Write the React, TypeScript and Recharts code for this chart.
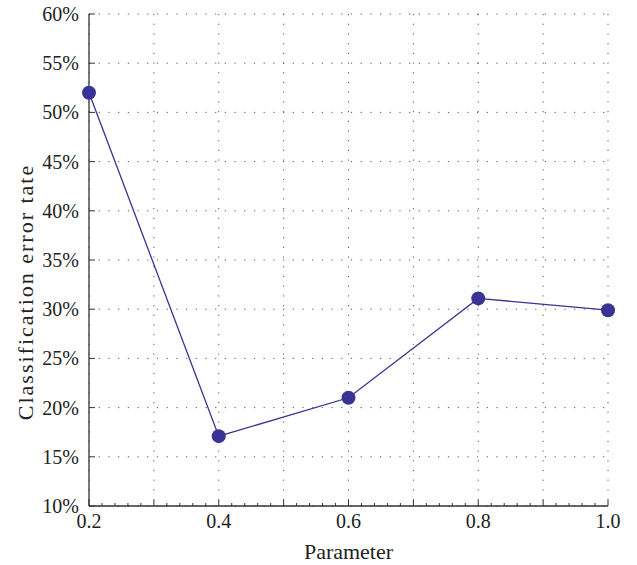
import React from 'react'
import { LineChart, Line, XAxis, YAxis, CartesianGrid } from 'recharts'

const parameters = [0.2, 0.4, 0.6, 0.8, 1.0]
const errorRates = [52.0, 17.1, 21.0, 31.1, 29.9]

const xLabelTicks = [0.2, 0.4, 0.6, 0.8, 1.0]
const xGridTicks = [0.2, 0.3, 0.4, 0.5, 0.6, 0.7, 0.8, 0.9, 1.0]
const yTicks = [10, 15, 20, 25, 30, 35, 40, 45, 50, 55, 60]

// minor ticks every 0.02 between the 0.1 gridlines
const xAllTicks = xGridTicks.flatMap((t, i) =>
  i === xGridTicks.length - 1 ? [t] : [0, 0.02, 0.04, 0.06, 0.08].map(d => Math.round((t + d) * 100) / 100)
)

const data = parameters.map((p, i) => ({ p, rate: errorRates[i] }))

const FONT = '"Liberation Serif", "DejaVu Serif", serif'
const AXIS = '#333'
const SERIES = '#3a3396'
const TEXT = '#222'

const isIn = (list: number[], v: number) => list.some(t => Math.abs(t - v) < 1e-6)

const BottomTick = ({ x, y, payload }: any) => {
  const v = payload.value
  const len = isIn(xGridTicks, v) ? 6 : 3
  return (
    <g>
      <line x1={x} x2={x} y1={y} y2={y - len} stroke={AXIS} strokeWidth={1} />
      {isIn(xLabelTicks, v) && (
        <text x={x} y={y + 22} textAnchor="middle" fontFamily={FONT} fontSize={20} fill={TEXT}>
          {v.toFixed(1)}
        </text>
      )}
    </g>
  )
}

const TopTick = ({ x, y, payload }: any) => {
  const len = isIn(xGridTicks, payload.value) ? 6 : 3
  return <line x1={x} x2={x} y1={y} y2={y + len} stroke={AXIS} strokeWidth={1} />
}

const LeftTick = ({ x, y, payload }: any) => (
  <g>
    <line x1={x} x2={x + 6} y1={y} y2={y} stroke={AXIS} strokeWidth={1} />
    <text x={x - 10} y={y} dy="0.35em" textAnchor="end" fontFamily={FONT} fontSize={20} fill={TEXT}>
      {`${payload.value}%`}
    </text>
  </g>
)

const RightTick = ({ x, y }: any) => (
  <line x1={x} x2={x - 6} y1={y} y2={y} stroke={AXIS} strokeWidth={1} />
)

const YTitle = ({ viewBox }: any) => {
  const cx = viewBox.x + 25
  const cy = viewBox.y + viewBox.height / 2 + 32
  return (
    <text
      x={cx}
      y={cy}
      dy="0.35em"
      textAnchor="middle"
      transform={`rotate(-90, ${cx}, ${cy})`}
      fontFamily={FONT}
      fontSize={22}
      letterSpacing={2}
      fill={TEXT}
    >
      Classification error tate
    </text>
  )
}

export default function App() {
  return (
    <div style={{ position: 'absolute', left: 0, top: 0, width: 637, height: 565, background: '#fff' }}>
      <LineChart width={637} height={565} data={data} margin={{ top: 14, right: 29, bottom: 0, left: 0 }}>
        <CartesianGrid
          xAxisId="bottom"
          yAxisId="left"
          stroke="#555"
          strokeDasharray="1.2 8.5"
          verticalValues={xGridTicks}
          horizontalValues={yTicks}
        />
        <XAxis
          xAxisId="bottom"
          dataKey="p"
          type="number"
          domain={[0.2, 1.0]}
          ticks={xAllTicks}
          interval={0}
          tickSize={0}
          tickMargin={0}
          tickLine={false}
          tick={<BottomTick />}
          axisLine={{ stroke: AXIS, strokeWidth: 1.3 }}
          height={59}
          label={{ value: 'Parameter', position: 'insideBottom', offset: 6, fontFamily: FONT, fontSize: 22, fill: TEXT }}
        />
        <XAxis
          xAxisId="top"
          orientation="top"
          dataKey="p"
          type="number"
          domain={[0.2, 1.0]}
          ticks={xAllTicks}
          interval={0}
          tickSize={0}
          tickMargin={0}
          tickLine={false}
          tick={<TopTick />}
          axisLine={{ stroke: AXIS, strokeWidth: 1.3 }}
          height={0}
        />
        <YAxis
          yAxisId="left"
          type="number"
          domain={[10, 60]}
          ticks={yTicks}
          interval={0}
          tickSize={0}
          tickMargin={0}
          tickLine={false}
          tick={<LeftTick />}
          axisLine={{ stroke: AXIS, strokeWidth: 1.3 }}
          width={89}
          label={{ content: <YTitle /> }}
        />
        <YAxis
          yAxisId="right"
          orientation="right"
          type="number"
          domain={[10, 60]}
          ticks={yTicks}
          interval={0}
          tickSize={0}
          tickMargin={0}
          tickLine={false}
          tick={<RightTick />}
          axisLine={{ stroke: AXIS, strokeWidth: 1.3 }}
          width={0}
        />
        <Line
          xAxisId="bottom"
          yAxisId="left"
          dataKey="rate"
          stroke={SERIES}
          strokeWidth={1.3}
          dot={{ r: 7, fill: SERIES, stroke: SERIES, strokeWidth: 0 }}
          isAnimationActive={false}
        />
      </LineChart>
    </div>
  )
}
